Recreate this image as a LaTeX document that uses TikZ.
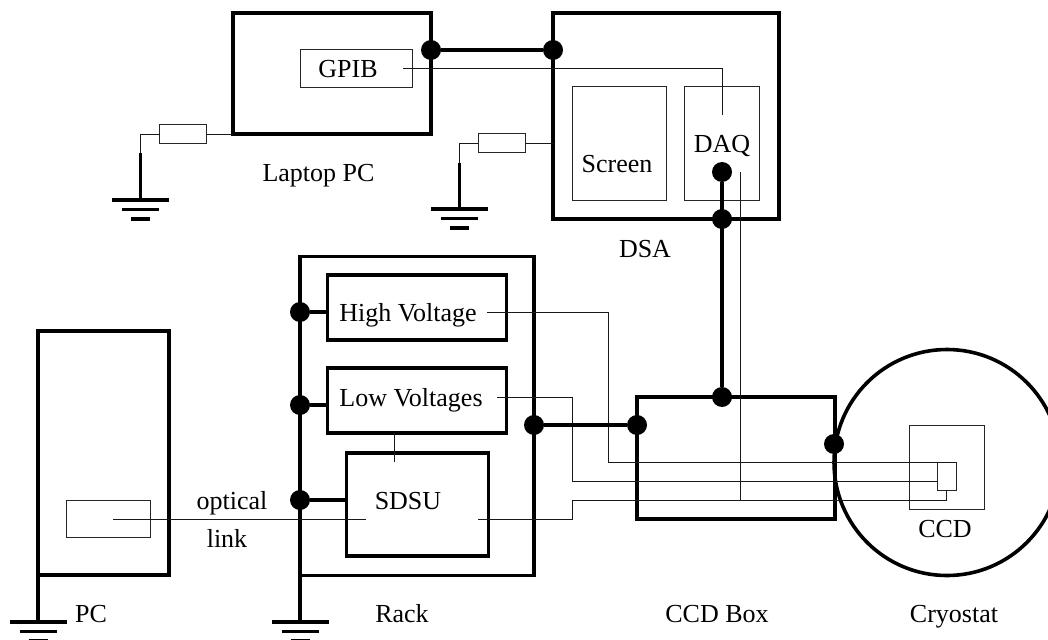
\documentclass[tikz,border=0pt]{standalone}
\usepackage{fontspec}
\setmainfont{Liberation Serif}
\tikzset{
  heavybox/.style={draw=black,line width=3.6pt,rectangle,inner sep=0pt,outer sep=0pt},
  lightbox/.style={draw=black!85,line width=1pt,rectangle,inner sep=0pt,outer sep=0pt},
  heavyline/.style={draw=black,line width=3.6pt},
  lightwire/.style={draw=black!90,line width=1pt},
  joint/.style={circle,fill=black,draw=none,minimum size=20pt,inner sep=0pt,outer sep=0pt},
  lbl/.style={inner sep=0pt,outer sep=0pt,anchor=base,font=\fontsize{26}{30}\selectfont},
  gnd/.pic={
    \draw[line width=3.6pt] (-28.5,0) -- (28.5,0);
    \draw[line width=3.6pt] (-18.5,9.5) -- (18.5,9.5);
    \draw[line width=3.6pt] (-9.5,19) -- (9.5,19);
  }
}
\begin{document}
\begin{tikzpicture}[x=1pt,y=-1pt]
\useasboundingbox (0,0) rectangle (1048,639);
\clip (0,0) rectangle (1048,639);
% boxes
\node[heavybox,minimum width=198,minimum height=121] (laptop) at (332,73.5) {};
\node[heavybox,minimum width=226,minimum height=206] (dsa) at (666,116) {};
\node[heavybox,minimum width=234,minimum height=319] (rack) at (417,416) {};
\node[heavybox,minimum width=131,minimum height=244] (pc) at (103.5,453) {};
\node[heavybox,minimum width=179,minimum height=65] (hv) at (417,307.5) {};
\node[heavybox,minimum width=179,minimum height=65] (lv) at (417,400.5) {};
\node[heavybox,minimum width=142,minimum height=103] (sdsu) at (417.5,504.5) {};
\node[heavybox,minimum width=198,minimum height=122] (ccdbox) at (736,458) {};
\node[circle,draw=black,line width=3.6pt,minimum size=226,inner sep=0pt,outer sep=0pt] (cryo) at (947,462.5) {};
\node[lightbox,minimum width=112,minimum height=38] (gpib) at (356,69) {};
\node[lightbox,minimum width=94,minimum height=113] (screen) at (619,143.5) {};
\node[lightbox,minimum width=75,minimum height=113] (daq) at (721.5,143.5) {};
\node[lightbox,minimum width=84,minimum height=37] (opto) at (108,518.5) {};
\node[lightbox,minimum width=75,minimum height=84] (ccd) at (946.5,467) {};
\node[lightbox,minimum width=19,minimum height=28] (chip) at (946.5,476.5) {};
\node[lightbox,minimum width=47,minimum height=19] (resa) at (183,134.5) {};
\node[lightbox,minimum width=47,minimum height=19] (resb) at (501.5,143.5) {};
% named points
\coordinate (gndA) at (140.5,200);
\coordinate (gndB) at (459.5,209);
\coordinate (gndC) at (38,622);
\coordinate (gndD) at (300,622);
\coordinate (stemA) at (140.5,153);
\coordinate (stemB) at (459.5,163);
% thin wires
\draw[lightwire] (resa.east) -- (laptop.west |- resa.east);
\draw[lightwire] (resa.west) -| (stemA);
\draw[lightwire] (dsa.west |- resb.east) -- (resb.east);
\draw[lightwire] (resb.west) -| (stemB);
\coordinate (gpibin) at (403,69);
\coordinate (daqin) at (722,115);
\draw[lightwire] (gpibin) -| (daqin);
\coordinate (optoin) at (113,519);
\coordinate (sdsuin) at (366,519);
\draw[lightwire] (optoin) -- (sdsuin);
\coordinate (lvdrop) at (394,433);
\coordinate (sdsutap) at (394,462);
\draw[lightwire] (lvdrop) -- (sdsutap);
\coordinate (hvout) at (487,312);
\coordinate (hvb) at (608,312);
\coordinate (hvc) at (608,462.5);
\draw[lightwire] (hvout) -- (hvb) -- (hvc) -- (chip.north east);
\coordinate (lvout) at (497,397);
\coordinate (lvb) at (572,397);
\coordinate (lvc) at (572,481);
\coordinate (chipmid) at (937,481);
\draw[lightwire] (lvout) -- (lvb) -- (lvc) -- (chipmid);
\coordinate (sdout) at (478,519);
\coordinate (sdb) at (572,519);
\coordinate (sdc) at (572,500);
\coordinate (sdd) at (946.5,500);
\draw[lightwire] (sdout) -- (sdb) -- (sdc) -- (sdd) -- (chip.south);
\coordinate (daqtap) at (740,172);
\coordinate (ccdtap) at (740,500);
\draw[lightwire] (daqtap) -- (ccdtap);
% joints
\node[joint] (j1) at (431,50) {};
\node[joint] (j2) at (553,50) {};
\node[joint] (j3) at (722,172) {};
\node[joint] (j4) at (722,219) {};
\node[joint] (j5) at (722,397) {};
\node[joint] (j6) at (300,312) {};
\node[joint] (j7) at (300,405) {};
\node[joint] (j8) at (300,500) {};
\node[joint] (j9) at (534,425) {};
\node[joint] (j10) at (637,425) {};
\node[joint] (j11) at (834,444) {};
% thick connectors
\draw[heavyline] (j1) -- (j2);
\draw[heavyline] (j3) -- (j5);
\draw[heavyline] (j6) -- (hv.west |- j6);
\draw[heavyline] (j7) -- (lv.west |- j7);
\draw[heavyline] (j8) -- (sdsu.west |- j8);
\draw[heavyline] (j9) -- (j10);
\draw[heavyline] (pc.south west) -- (gndC);
\draw[heavyline] (rack.south west) -- (gndD);
\draw[heavyline] (stemA) -- (gndA);
\draw[heavyline] (stemB) -- (gndB);
% grounds
\pic at (gndA) {gnd};
\pic at (gndB) {gnd};
\pic at (gndC) {gnd};
\pic at (gndD) {gnd};
% labels
\node[lbl] (tgpib) at (348,78) {GPIB};
\node[lbl] (tlaptop) at (318.5,181) {Laptop PC};
\node[lbl] (tscreen) at (617,172) {Screen};
\node[lbl] (tdaq) at (722,153) {DAQ};
\node[lbl] (tdsa) at (645,257) {DSA};
\node[lbl] (thv) at (408,321.5) {High Voltage};
\node[lbl] (tlv) at (411,406) {Low Voltages};
\node[lbl] (tsdsu) at (408,509) {SDSU};
\node[lbl] (topt) at (232,509) {optical};
\node[lbl] (tlink) at (227,547) {link};
\node[lbl] (tpc) at (91,622) {PC};
\node[lbl] (track) at (402,622) {Rack};
\node[lbl] (tccdb) at (717,622) {CCD Box};
\node[lbl] (tcry) at (954,622) {Cryostat};
\node[lbl] (tccd) at (945,537) {CCD};
\end{tikzpicture}
\end{document}
